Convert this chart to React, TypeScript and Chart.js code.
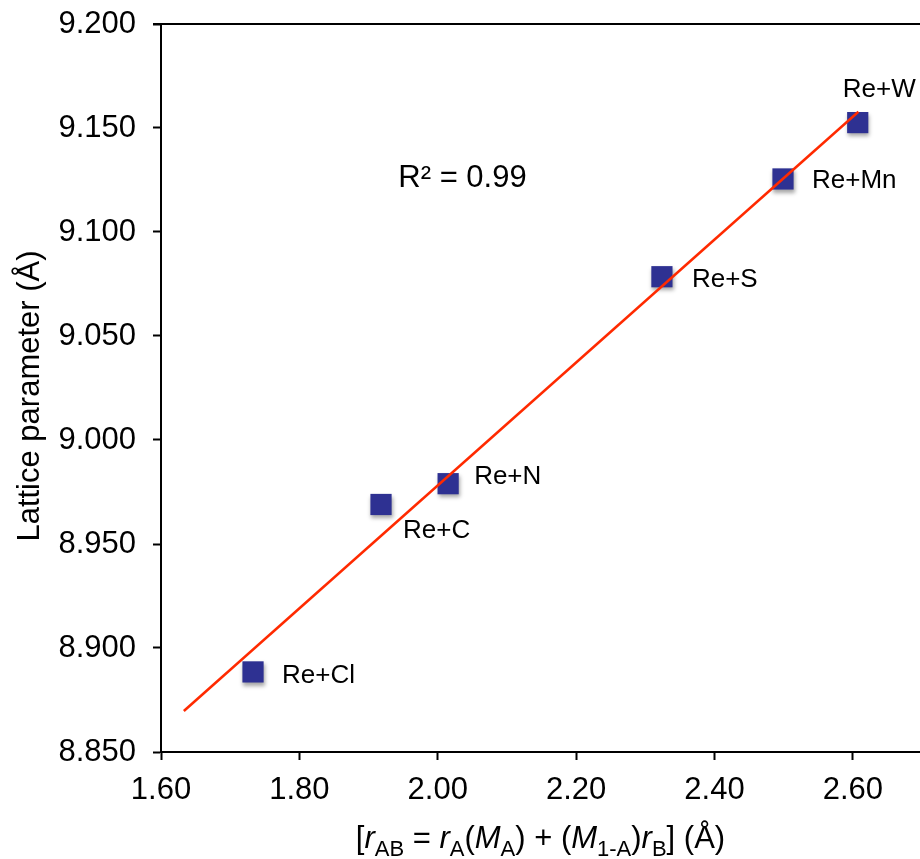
import React, { useEffect, useRef } from 'react';
import { Chart, registerables } from 'chart.js';

Chart.register(...registerables);

// ---- data ----
const compounds = ['Re+Cl', 'Re+C', 'Re+N', 'Re+S', 'Re+Mn', 'Re+W'];
const radiusValues = [1.733, 1.918, 2.015, 2.324, 2.499, 2.607];
const latticeValues = [8.8885, 8.969, 8.979, 9.0785, 9.1255, 9.1526];
const fitX = [1.633, 2.608];
const fitY = [8.8697, 9.1578];
const xTickValues = [1.6, 1.8, 2.0, 2.2, 2.4, 2.6];
const xTickLabels = ['1.60', '1.80', '2.00', '2.20', '2.40', '2.60'];
const yTickValues = [8.85, 8.9, 8.95, 9.0, 9.05, 9.1, 9.15, 9.2];
const yTickLabels = ['8.850', '8.900', '8.950', '9.000', '9.050', '9.100', '9.150', '9.200'];
const rSquaredText = 'R\u00B2 = 0.99';
const rSquaredAt = [1.943, 9.127];
const yTitle = 'Lattice parameter (\u00C5)';

// ---- styles ----
const FONT = '"Liberation Sans", Arial, Helvetica, sans-serif';
const labelOffsets = [[29, 2], [22, 25], [26, -9], [30, 1], [29, 0], [-15, -35]];

type Seg = { t: string; italic?: boolean; sub?: boolean };
const xTitleSegs: Seg[] = [
  { t: '[' },
  { t: 'r', italic: true },
  { t: 'AB', sub: true },
  { t: ' = ' },
  { t: 'r', italic: true },
  { t: 'A', sub: true },
  { t: '(' },
  { t: 'M', italic: true },
  { t: 'A', sub: true },
  { t: ') + (' },
  { t: 'M', italic: true },
  { t: '1-A', sub: true },
  { t: ')' },
  { t: 'r', italic: true },
  { t: 'B', sub: true },
  { t: '] (\u00C5)' },
];

const decorPlugin = {
  id: 'decor',
  beforeDatasetDraw(chart: any, args: any) {
    if (args.index === 1) {
      const ctx = chart.ctx;
      ctx.save();
      ctx.shadowColor = 'rgba(0,0,0,0.35)';
      ctx.shadowBlur = 4;
      ctx.shadowOffsetX = 1;
      ctx.shadowOffsetY = 3;
    }
  },
  afterDatasetDraw(chart: any, args: any) {
    if (args.index === 1) chart.ctx.restore();
  },
  afterDraw(chart: any) {
    const { ctx, chartArea, scales } = chart;
    const xs = scales.x;
    const ys = scales.y;
    ctx.save();
    // top frame line
    ctx.strokeStyle = '#000';
    ctx.lineWidth = 2;
    ctx.beginPath();
    ctx.moveTo(chartArea.left - 8, chartArea.top);
    ctx.lineTo(chartArea.right, chartArea.top);
    ctx.stroke();

    // point labels
    ctx.fillStyle = '#000';
    ctx.font = `26px ${FONT}`;
    ctx.textAlign = 'left';
    ctx.textBaseline = 'alphabetic';
    compounds.forEach((name, i) => {
      const px = xs.getPixelForValue(radiusValues[i]);
      const py = ys.getPixelForValue(latticeValues[i]);
      const [dx, dy] = labelOffsets[i];
      ctx.fillText(name, px + dx, py + dy + 9);
    });

    // R^2
    ctx.font = `31px ${FONT}`;
    ctx.fillText(rSquaredText, xs.getPixelForValue(rSquaredAt[0]), ys.getPixelForValue(rSquaredAt[1]) + 11);

    // y title
    ctx.save();
    ctx.translate(30, 396);
    ctx.rotate(-Math.PI / 2);
    ctx.textAlign = 'center';
    ctx.textBaseline = 'middle';
    ctx.font = `31px ${FONT}`;
    ctx.fillText(yTitle, 0, 0);
    ctx.restore();

    // x title (rich text)
    const mainSize = 31;
    const subSize = 22;
    const fontFor = (s: Seg) => `${s.italic ? 'italic ' : ''}${s.sub ? subSize : mainSize}px ${FONT}`;
    let total = 0;
    const widths = xTitleSegs.map((s) => {
      ctx.font = fontFor(s);
      const w = ctx.measureText(s.t).width;
      total += w;
      return w;
    });
    let x = (chartArea.left + chartArea.right) / 2 - total / 2;
    const baseY = chartArea.bottom + 96;
    ctx.textAlign = 'left';
    ctx.textBaseline = 'alphabetic';
    xTitleSegs.forEach((s, i) => {
      ctx.font = fontFor(s);
      ctx.fillText(s.t, x, s.sub ? baseY + 8 : baseY);
      x += widths[i];
    });
    ctx.restore();
  },
};

export default function App() {
  const ref = useRef<HTMLCanvasElement | null>(null);
  useEffect(() => {
    if (!ref.current) return;
    const chart = new Chart(ref.current, {
      type: 'scatter',
      data: {
        datasets: [
          {
            type: 'line',
            label: 'fit',
            data: fitX.map((v, i) => ({ x: v, y: fitY[i] })),
            borderColor: '#ff2a00',
            borderWidth: 2.5,
            pointRadius: 0,
            fill: false,
            order: 0,
          } as any,
          {
            label: 'data',
            data: radiusValues.map((v, i) => ({ x: v, y: latticeValues[i] })),
            backgroundColor: '#2e3192',
            borderColor: '#2e3192',
            borderWidth: 0,
            pointStyle: 'rect',
            pointRadius: 15,
            pointHoverRadius: 15,
            clip: false,
            order: 1,
          } as any,
        ],
      },
      options: {
        animation: false,
        responsive: false,
        maintainAspectRatio: false,
        layout: { autoPadding: false, padding: { top: 24, right: 0, left: 0, bottom: 0 } },
        plugins: { legend: { display: false }, tooltip: { enabled: false } },
        scales: {
          x: {
            type: 'linear',
            min: 1.6,
            max: 2.697,
            afterBuildTicks: (s: any) => {
              s.ticks = xTickValues.map((v) => ({ value: v }));
            },
            afterFit: (s: any) => {
              s.height = 107;
              s.paddingLeft = 0;
              s.paddingRight = 0;
              s.paddingTop = 0;
              s.paddingBottom = 0;
            },
            ticks: {
              autoSkip: false,
              maxRotation: 0,
              padding: 12,
              color: '#000',
              font: { family: FONT, size: 31 },
              callback: (_v: any, i: number) => xTickLabels[i],
            },
            grid: { drawOnChartArea: false, drawTicks: true, tickLength: 8, tickColor: '#000', tickWidth: 2 },
            border: { display: true, color: '#000', width: 2 },
          },
          y: {
            type: 'linear',
            min: 8.85,
            max: 9.2,
            afterBuildTicks: (s: any) => {
              s.ticks = yTickValues.map((v) => ({ value: v }));
            },
            afterFit: (s: any) => {
              s.width = 161;
              s.paddingLeft = 0;
              s.paddingRight = 0;
              s.paddingTop = 0;
              s.paddingBottom = 0;
            },
            ticks: {
              autoSkip: false,
              padding: 17,
              color: '#000',
              font: { family: FONT, size: 31 },
              callback: (_v: any, i: number) => yTickLabels[i],
            },
            grid: { drawOnChartArea: false, drawTicks: true, tickLength: 8, tickColor: '#000', tickWidth: 2 },
            border: { display: true, color: '#000', width: 2 },
          },
        },
      },
      plugins: [decorPlugin],
    });
    return () => chart.destroy();
  }, []);

  return (
    <div style={{ position: 'absolute', left: 0, top: 0, width: 920, height: 859, background: '#fff' }}>
      <canvas ref={ref} width={920} height={859} style={{ display: 'block', width: 920, height: 859 }} />
    </div>
  );
}
